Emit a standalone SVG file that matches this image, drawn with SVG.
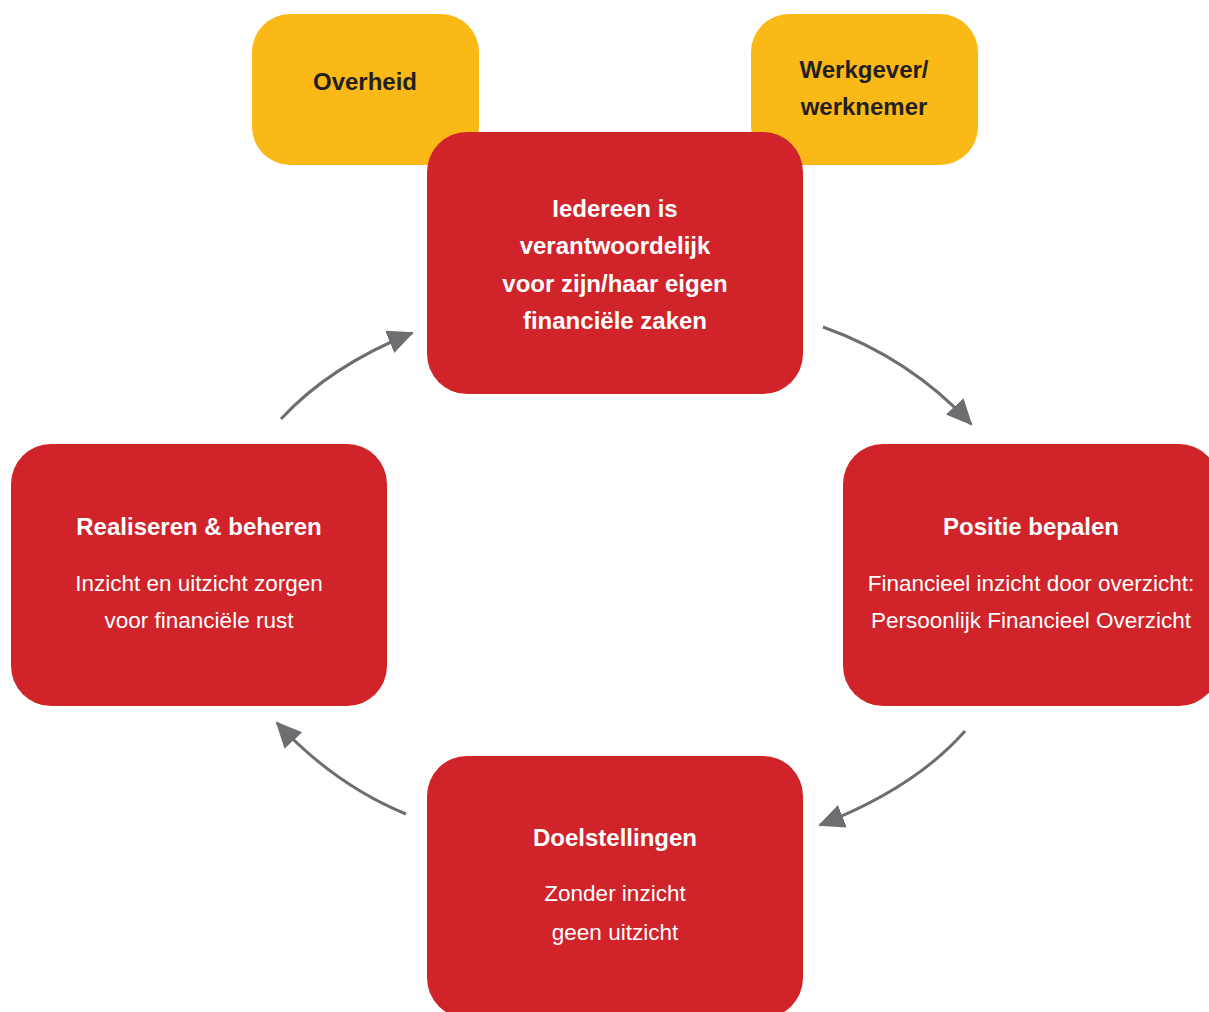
<svg xmlns="http://www.w3.org/2000/svg" width="1209" height="1012" viewBox="0 0 1209 1012">
<style>
.red{fill:#D0232A}
.yel{fill:#FBB917}
.t{font-family:"Liberation Sans",Arial,sans-serif;text-anchor:middle}
.title{font-size:24px;font-weight:bold;fill:#fff}
.body{font-size:22.5px;fill:#fff}
.dark{font-size:24px;font-weight:bold;fill:#231F20}
.conn{fill:none;stroke:#6D6E71;stroke-width:3}
</style>
<defs>
<marker id="ah" markerUnits="userSpaceOnUse" markerWidth="28" markerHeight="26" refX="24" refY="12" orient="auto">
<path d="M0,0 L26,12 L0,24 z" fill="#6D6E71"/>
</marker>
</defs>
<rect width="1209" height="1012" fill="#fff"/>
<g id="overheid">
<rect class="yel" x="252" y="14" width="227" height="151" rx="38"/>
<text class="t dark" x="365" y="90">Overheid</text>
</g>
<g id="werkgever">
<rect class="yel" x="751" y="14" width="227" height="151" rx="38"/>
<text class="t dark" x="864" y="78">Werkgever/</text>
<text class="t dark" x="864" y="115">werknemer</text>
</g>
<g id="iedereen">
<rect class="red" x="427" y="132" width="376" height="262" rx="40"/>
<text class="t title" x="615" y="217">Iedereen is</text>
<text class="t title" x="615" y="254">verantwoordelijk</text>
<text class="t title" x="615" y="292">voor zijn/haar eigen</text>
<text class="t title" x="615" y="329">financiële zaken</text>
</g>
<g id="realiseren">
<rect class="red" x="11" y="444" width="376" height="262" rx="40"/>
<text class="t title" x="199" y="535">Realiseren &amp; beheren</text>
<text class="t body" x="199" y="591">Inzicht en uitzicht zorgen</text>
<text class="t body" x="199" y="628">voor financiële rust</text>
</g>
<g id="positie">
<rect class="red" x="843" y="444" width="376" height="262" rx="40"/>
<text class="t title" x="1031" y="535">Positie bepalen</text>
<text class="t body" x="1031" y="591">Financieel inzicht door overzicht:</text>
<text class="t body" x="1031" y="628">Persoonlijk Financieel Overzicht</text>
</g>
<g id="doelstellingen">
<rect class="red" x="427" y="756" width="376" height="262" rx="40"/>
<text class="t title" x="615" y="846">Doelstellingen</text>
<text class="t body" x="615" y="901">Zonder inzicht</text>
<text class="t body" x="615" y="940">geen uitzicht</text>
</g>
<g id="connectors">
<path class="conn" d="M281,419 Q330,366 412,333" marker-end="url(#ah)"/>
<path class="conn" d="M823,327 Q910,358 971,424" marker-end="url(#ah)"/>
<path class="conn" d="M965,731 Q915,788 820,825" marker-end="url(#ah)"/>
<path class="conn" d="M406,814 Q335,785 277,723" marker-end="url(#ah)"/>
</g>
</svg>
